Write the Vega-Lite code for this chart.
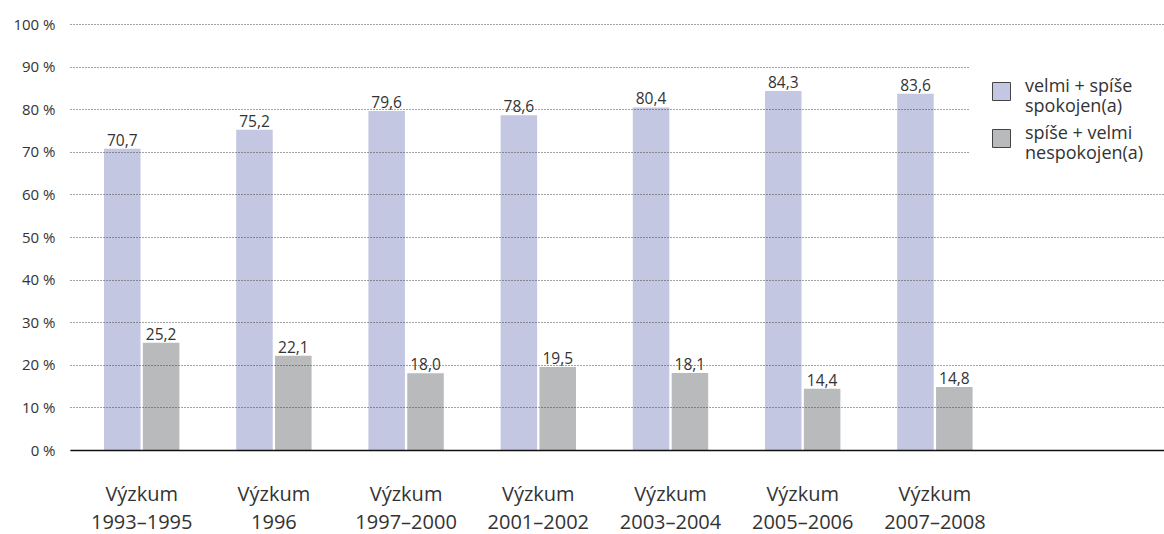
{
  "$schema": "https://vega.github.io/schema/vega-lite/v6.json",
  "width": 1094,
  "height": 426,
  "autosize": {"type": "none"},
  "padding": {"left": 70, "top": 24, "right": 0, "bottom": 84},
  "background": "white",
  "config": {
    "view": {"stroke": null},
    "font": "Open Sans",
    "locale": {"number": {"decimal": ",", "thousands": " ", "grouping": [3], "currency": ["", " Kč"]}}
  },
  "data": {
    "values": [
      {"vyzkum": "Výzkum 1993–1995", "skupina": "velmi + spíše spokojen(a)", "podil": 70.7},
      {"vyzkum": "Výzkum 1993–1995", "skupina": "spíše + velmi nespokojen(a)", "podil": 25.2},
      {"vyzkum": "Výzkum 1996", "skupina": "velmi + spíše spokojen(a)", "podil": 75.2},
      {"vyzkum": "Výzkum 1996", "skupina": "spíše + velmi nespokojen(a)", "podil": 22.1},
      {"vyzkum": "Výzkum 1997–2000", "skupina": "velmi + spíše spokojen(a)", "podil": 79.6},
      {"vyzkum": "Výzkum 1997–2000", "skupina": "spíše + velmi nespokojen(a)", "podil": 18.0},
      {"vyzkum": "Výzkum 2001–2002", "skupina": "velmi + spíše spokojen(a)", "podil": 78.6},
      {"vyzkum": "Výzkum 2001–2002", "skupina": "spíše + velmi nespokojen(a)", "podil": 19.5},
      {"vyzkum": "Výzkum 2003–2004", "skupina": "velmi + spíše spokojen(a)", "podil": 80.4},
      {"vyzkum": "Výzkum 2003–2004", "skupina": "spíše + velmi nespokojen(a)", "podil": 18.1},
      {"vyzkum": "Výzkum 2005–2006", "skupina": "velmi + spíše spokojen(a)", "podil": 84.3},
      {"vyzkum": "Výzkum 2005–2006", "skupina": "spíše + velmi nespokojen(a)", "podil": 14.4},
      {"vyzkum": "Výzkum 2007–2008", "skupina": "velmi + spíše spokojen(a)", "podil": 83.6},
      {"vyzkum": "Výzkum 2007–2008", "skupina": "spíše + velmi nespokojen(a)", "podil": 14.8}
    ]
  },
  "encoding": {
    "x": {
      "field": "vyzkum",
      "type": "nominal",
      "sort": null,
      "scale": {"paddingInner": 0.4297, "paddingOuter": 0.8525, "align": 0.1508},
      "axis": {
        "title": null,
        "domainColor": "#111",
        "domainWidth": 1.5,
        "ticks": false,
        "labelAngle": 0,
        "labelFont": "Open Sans",
        "labelFontSize": 20,
        "labelColor": "#333",
        "labelLineHeight": 28,
        "labelPadding": 34,
        "labelDx": -7,
        "labelExpr": "split(datum.label, ' ')",
        "zindex": 1
      }
    },
    "xOffset": {
      "field": "skupina",
      "type": "nominal",
      "sort": ["velmi + spíše spokojen(a)", "spíše + velmi nespokojen(a)"],
      "scale": {"paddingInner": 0.06, "paddingOuter": 0}
    },
    "y": {
      "field": "podil",
      "type": "quantitative",
      "scale": {"domain": [0, 100], "nice": false},
      "axis": {
        "title": null,
        "values": [0, 10, 20, 30, 40, 50, 60, 70, 80, 90, 100],
        "labelExpr": "datum.value + ' %'",
        "domain": false,
        "ticks": false,
        "labelPadding": 15,
        "labelFontSize": 15,
        "labelColor": "#333",
        "grid": true,
        "gridDash": [1, 2],
        "gridColor": "#444",
        "gridWidth": 1,
        "zindex": 1
      }
    }
  },
  "layer": [
    {
      "mark": {"type": "bar"},
      "encoding": {
        "color": {
          "field": "skupina",
          "type": "nominal",
          "sort": ["velmi + spíše spokojen(a)", "spíše + velmi nespokojen(a)"],
          "scale": {"range": ["#c3c7e2", "#b9babc"]},
          "legend": {
            "orient": "none",
            "legendX": 900,
            "legendY": 36,
            "title": null,
            "symbolType": "square",
            "symbolSize": 324,
            "symbolStrokeColor": "#444",
            "symbolStrokeWidth": 1,
            "symbolOpacity": 1,
            "labelFontSize": 18,
            "labelColor": "#333",
            "labelLineHeight": 23,
            "labelBaseline": "alphabetic",
            "labelOffset": 14,
            "labelLimit": 300,
            "rowPadding": 8,
            "fillColor": "white",
            "padding": 22,
            "zindex": 2,
            "labelExpr": "datum.label == 'velmi + spíše spokojen(a)' ? ['velmi + spíše', 'spokojen(a)'] : ['spíše + velmi', 'nespokojen(a)']"
          }
        }
      }
    },
    {
      "mark": {"type": "text", "baseline": "alphabetic", "dy": -3, "fontSize": 15.5, "color": "#333"},
      "encoding": {
        "text": {"field": "podil", "type": "quantitative", "format": ".1f"}
      }
    }
  ]
}
